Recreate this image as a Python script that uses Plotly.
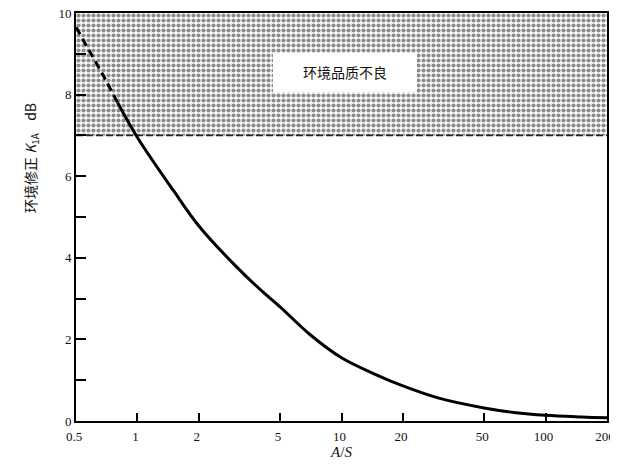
import plotly.graph_objects as go

# --- data ---
zone_x = [0.5, 200]          # A/S range of the "poor environment" zone
zone_y = [7, 10]             # K range of the zone (dB)

dash_x = [0.5, 0.6, 0.7, 0.8]
dash_y = [9.65, 8.95, 8.35, 7.8]

curve_x = [0.8, 1, 1.5, 2, 3, 4, 5, 7, 10, 15, 20, 30, 50, 70, 100, 150, 200]
curve_y = [7.8, 6.95, 5.65, 4.78, 3.82, 3.22, 2.8, 2.12, 1.55, 1.12, 0.86, 0.56, 0.32, 0.21, 0.14, 0.1, 0.08]

x_ticks = [0.5, 1, 2, 5, 10, 20, 50, 100, 200]
x_ticklabels = ["0.5", "1", "2", "5", "10", "20", "50", "100", "200"]
y_ticks = [0, 2, 4, 6, 8, 10]
y_ticklabels = ["0", "2", "4", "6", "8", "10"]

zone_label = "环境品质不良"
x_title = "<i>A</i>/<i>S</i>"
y_title = "环境修正 <i>K</i><sub>1A</sub>    dB"

SERIF = "Liberation Serif, Times New Roman, serif"
CJK = "Noto Sans CJK SC"

fig = go.Figure()

# hatched zone
fig.add_trace(go.Scatter(
    x=[zone_x[0], zone_x[1], zone_x[1], zone_x[0], zone_x[0]],
    y=[zone_y[0], zone_y[0], zone_y[1], zone_y[1], zone_y[0]],
    mode="lines", fill="toself", line=dict(width=0),
    fillcolor="rgba(0,0,0,0)",
    fillpattern=dict(shape=".", fgcolor="#1a1a1a", bgcolor="white", size=5, solidity=0.55),
    hoverinfo="skip", showlegend=False))

# dashed lower boundary of the zone
fig.add_trace(go.Scatter(
    x=zone_x, y=[zone_y[0], zone_y[0]], mode="lines",
    line=dict(color="#222", width=1.8, dash="7px,3px"),
    hoverinfo="skip", showlegend=False))

# dashed part of the curve
fig.add_trace(go.Scatter(
    x=dash_x, y=dash_y, mode="lines",
    line=dict(color="black", width=3, dash="8px,5px", shape="spline"),
    showlegend=False))

# solid curve
fig.add_trace(go.Scatter(
    x=curve_x, y=curve_y, mode="lines",
    line=dict(color="black", width=3, shape="spline", smoothing=1.0),
    showlegend=False))

# white label box
fig.add_shape(type="rect", xref="paper", yref="paper",
              x0=0.371, x1=0.642, y0=0.806, y1=0.902,
              fillcolor="white", line=dict(width=0), layer="above")
fig.add_annotation(xref="paper", yref="paper", x=0.507, y=0.855,
                   text=zone_label, showarrow=False, yanchor="middle",
                   font=dict(family=CJK, size=14, color="#111"))

# y-axis title (rotated)
fig.add_annotation(xref="paper", yref="paper", x=-0.109, y=0.645,
                   text=y_title, textangle=-90, showarrow=False,
                   font=dict(family=CJK + ", " + SERIF, size=14, color="#111"))

# the page body adds an 8px margin; size and margins compensate so the page fits the window
fig.update_layout(
    width=610, height=456,
    margin=dict(l=68, r=11, t=5, b=43, autoexpand=False),
    paper_bgcolor="white", plot_bgcolor="white",
    showlegend=False,
)

fig.update_xaxes(
    type="log", range=[-0.30103, 2.30103], automargin=False,
    tickvals=x_ticks, ticktext=x_ticklabels, ticklabeloverflow="allow",
    ticklabelshift=-2, ticklabelstandoff=2,
    ticks="inside", ticklen=8, tickwidth=1.5, tickcolor="black",
    showline=True, linecolor="black", linewidth=2, mirror=True,
    showgrid=False, zeroline=False,
    tickfont=dict(family=SERIF, size=13, color="#111"),
    title=dict(text=x_title, font=dict(family=SERIF, size=15, color="#111"), standoff=4),
)
fig.update_yaxes(
    range=[0, 10], automargin=False,
    tickvals=y_ticks, ticktext=y_ticklabels, ticklabeloverflow="allow",
    ticks="inside", ticklen=10, tickwidth=1.5, tickcolor="black",
    minor=dict(dtick=1, ticks="inside", ticklen=10, tickwidth=1.5, tickcolor="black", showgrid=False),
    showline=True, linecolor="black", linewidth=2, mirror=True,
    showgrid=False, zeroline=False,
    tickfont=dict(family=SERIF, size=13, color="#111"),
)

fig.write_html("out.html")
